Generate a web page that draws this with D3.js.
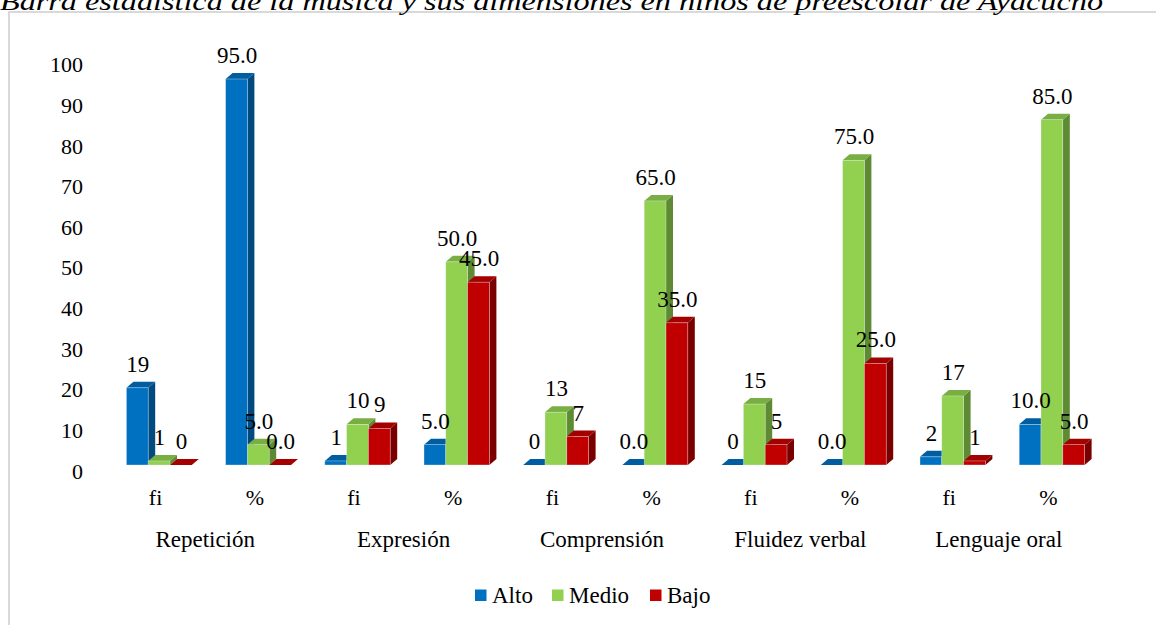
<!DOCTYPE html>
<html>
<head>
<meta charset="utf-8">
<script src="https://cdn.jsdelivr.net/npm/d3@7"></script>
<style>
  html, body { margin: 0; padding: 0; background: #fff; }
  svg { display: block; }
</style>
</head>
<body>
<svg id="chart" width="1156" height="625" font-family="Liberation Serif"></svg>
<script>
// ---- data ----
const titleText = "Barra estadística de la música y sus dimensiones en niños de preescolar de Ayacucho";
const categories = ["Repetición", "Expresión", "Comprensión", "Fluidez verbal", "Lenguaje oral"];
const subLabels = ["fi", "%"];
const seriesNames = ["Alto", "Medio", "Bajo"];
const alto  = [19, 95.0, 1, 5.0, 0, 0.0, 0, 0.0, 2, 10.0];
const medio = [1, 5.0, 10, 50.0, 13, 65.0, 15, 75.0, 17, 85.0];
const bajo  = [0, 0.0, 9, 45.0, 7, 35.0, 5, 25.0, 1, 5.0];
const yTicks = [0, 10, 20, 30, 40, 50, 60, 70, 80, 90, 100];

const seriesValues = [alto, medio, bajo];
const colors = [
  { front: "#0070C0", top: "#005DA0", side: "#004A80" },
  { front: "#92D050", top: "#79AE42", side: "#5E8A33" },
  { front: "#C00000", top: "#A30000", side: "#7A0000" }
];
const FONT = "Liberation Serif";

const svg = d3.select("#chart");

// border
svg.append("rect").attr("x", 9).attr("y", 12).attr("width", 1160).attr("height", 630)
  .attr("fill", "none").attr("stroke", "#d9d9d9").attr("stroke-width", 2);

// title
svg.append("text").attr("x", 0).attr("y", 10)
  .attr("font-family", FONT).attr("font-size", 26).attr("font-style", "italic")
  .attr("textLength", 1103).attr("lengthAdjust", "spacingAndGlyphs")
  .text(titleText);

// scales
const bandKeys = d3.range(categories.length * subLabels.length);
const x0 = d3.scaleBand().domain(bandKeys).range([106, 1098]).padding(0);
const groupW = 65.4;
const x1 = d3.scaleBand().domain(d3.range(seriesNames.length)).range([0, groupW]).padding(0);
const groupOffset = (x0.bandwidth() - groupW) / 2 + 3.5;
const y = d3.scaleLinear().domain([0, 100]).range([465, 465 - 406.3]);
const dx = 7, dy = -6;

// y axis
const yAxis = d3.axisLeft(y).tickValues(yTicks).tickSize(0).tickPadding(0).tickFormat(d3.format("d"));
const gy = svg.append("g").attr("transform", "translate(83,6)").call(yAxis);
gy.attr("font-family", FONT).attr("font-size", 22);
gy.select(".domain").remove();
gy.selectAll("text").attr("font-family", FONT).attr("font-size", 22).attr("fill", "#000");

// bars
const barsG = svg.append("g");
bandKeys.forEach(i => {
  seriesValues.forEach((vals, s) => {
    const v = vals[i];
    const xl = x0(i) + groupOffset + x1(s);
    const xr = xl + x1.bandwidth();
    const yt = y(v), yb = y(0);
    const c = colors[s];
    barsG.append("path")
      .attr("d", `M${xr},${yb} L${xr + dx},${yb + dy} L${xr + dx},${yt + dy} L${xr},${yt} Z`)
      .attr("fill", c.side);
    barsG.append("path")
      .attr("d", `M${xl},${yt} L${xl + dx},${yt + dy} L${xr + dx},${yt + dy} L${xr},${yt} Z`)
      .attr("fill", c.top);
    if (yb - yt > 0) {
      barsG.append("rect").attr("x", xl).attr("y", yt).attr("width", xr - xl).attr("height", yb - yt)
        .attr("fill", c.front).attr("stroke", "rgba(230,240,250,0.6)").attr("stroke-width", 0.6);
    }
  });
});

// data labels
const labelsG = svg.append("g");
bandKeys.forEach(i => {
  const fmt = (i % 2 === 0) ? d3.format("d") : d3.format(".1f");
  seriesValues.forEach((vals, s) => {
    const v = vals[i];
    const xc = x0(i) + groupOffset + x1(s) + x1.bandwidth() / 2;
    labelsG.append("text").attr("x", xc + 0.5).attr("y", y(v) - 16)
      .attr("text-anchor", "middle").attr("font-family", FONT).attr("font-size", 23).text(fmt(v));
  });
});

// x sub labels
bandKeys.forEach(i => {
  svg.append("text").attr("x", x0(i) + x0.bandwidth() / 2).attr("y", 505)
    .attr("text-anchor", "middle").attr("font-family", FONT).attr("font-size", 22).text(subLabels[i % 2]);
});
// category labels
categories.forEach((cat, k) => {
  const xa = x0(k * 2) + x0.bandwidth() / 2, xb = x0(k * 2 + 1) + x0.bandwidth() / 2;
  svg.append("text").attr("x", (xa + xb) / 2).attr("y", 547)
    .attr("text-anchor", "middle").attr("font-family", FONT).attr("font-size", 23).text(cat);
});

// legend
const legendX = [475, 552, 650];
seriesNames.forEach((name, s) => {
  svg.append("rect").attr("x", legendX[s]).attr("y", 589.5).attr("width", 11.5).attr("height", 11.5)
    .attr("fill", colors[s].front);
  svg.append("text").attr("x", legendX[s] + 17).attr("y", 603)
    .attr("font-family", FONT).attr("font-size", 23).text(name);
});
</script>
</body>
</html>
